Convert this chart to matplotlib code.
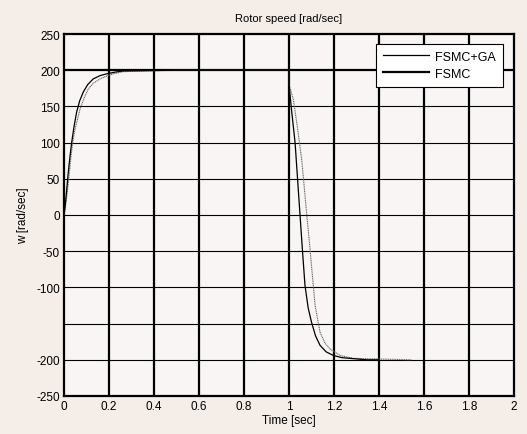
import matplotlib
matplotlib.use("Agg")
import matplotlib.pyplot as plt
from matplotlib.lines import Line2D
import numpy as np

plt.rcParams['font.family'] = ['Liberation Sans', 'DejaVu Sans']

# FSMC+GA response
t_ga = [0, 0.005, 0.012, 0.019, 0.027, 0.034, 0.045, 0.056, 0.07, 0.086, 0.105, 0.13, 0.16, 0.19, 0.23, 0.264, 0.5, 0.8, 1.0,
        1.0, 1.013, 1.027, 1.038, 1.049, 1.06, 1.071, 1.085, 1.1, 1.118, 1.138, 1.165, 1.197, 1.235, 1.27, 1.345, 1.4]
w_ga = [0, 12, 35, 59, 82, 100, 123, 142, 158, 170, 180, 188, 192.5, 195, 197.5, 199, 200, 200, 200,
        180, 140, 100, 50, 0, -50, -97, -128, -148, -167, -180, -189, -194, -197, -198, -200, -200]

# FSMC response
t_fs = [0, 0.006, 0.014, 0.022, 0.03, 0.0385, 0.05, 0.071, 0.09, 0.108, 0.13, 0.16, 0.19, 0.22, 0.264, 0.5, 0.8, 1.0,
        1.0, 1.019, 1.038, 1.056, 1.068, 1.079, 1.09, 1.1, 1.116, 1.138, 1.16, 1.182, 1.227, 1.286, 1.345, 1.545]
w_fs = [0, 10, 30, 52, 78, 100, 120, 146, 162, 174, 182, 188, 192, 195, 198, 200, 200, 200,
        180, 160, 120, 77.5, 38, 0, -35, -70, -125, -162, -177, -185, -194, -198, -198.5, -200]

x_ticks = [0, 0.2, 0.4, 0.6, 0.8, 1, 1.2, 1.4, 1.6, 1.8, 2]
x_labels = ['0', '0.2', '0.4', '0.6', '0.8', '1', '1.2', '1.4', '1.6', '1.8', '2']
y_ticks = [-250, -200, -150, -100, -50, 0, 50, 100, 150, 200, 250]
y_labels = ['-250', '-200', '', '-100', '-50', '0', '50', '100', '150', '200', '250']

fig = plt.figure(figsize=(5.27, 4.35), dpi=100, facecolor='#f4ede8')
ax = fig.add_axes([64 / 527, 1 - 397 / 435, 450 / 527, 362 / 435])
ax.set_facecolor('#f8f5f4')

for x in x_ticks[1:-1]:
    ax.axvline(x, color='black', lw=1.6, zorder=1)
for y in y_ticks[1:-1]:
    ax.axhline(y, color='black', lw=1.6 if y == 200 else 0.8, zorder=1)

ax.plot(t_fs, w_fs, color='#666666', lw=0.8, ls=(0, (1, 0.6)), zorder=3)
ax.plot(t_ga, w_ga, color='black', lw=0.9, zorder=4)

ax.set_xlim(0, 2)
ax.set_ylim(-250, 250)
ax.set_xticks(x_ticks)
ax.set_xticklabels(x_labels)
ax.set_yticks(y_ticks)
ax.set_yticklabels(y_labels)
ax.tick_params(length=0, labelsize=8.5, pad=3)
for s in ax.spines.values():
    s.set_linewidth(1.6)

ax.set_title('Rotor speed [rad/sec]', fontsize=8, pad=9)
ax.set_xlabel('Time [sec]', fontsize=8.5, labelpad=1)
ax.set_ylabel('w [rad/sec]', fontsize=8.5, labelpad=5)

handles = [Line2D([], [], color='black', lw=0.9), Line2D([], [], color='black', lw=1.6)]
leg = ax.legend(handles, ['FSMC+GA', 'FSMC'], loc='upper right', bbox_to_anchor=(0.9756, 0.9724),
                fontsize=9, frameon=True, fancybox=False, framealpha=1, edgecolor='black',
                handlelength=3.7, handletextpad=0.5, borderpad=0.55, labelspacing=0.4,
                borderaxespad=0)
leg.get_frame().set_linewidth(0.8)
leg.set_zorder(10)

fig.savefig('out.png', dpi=100, facecolor=fig.get_facecolor())
